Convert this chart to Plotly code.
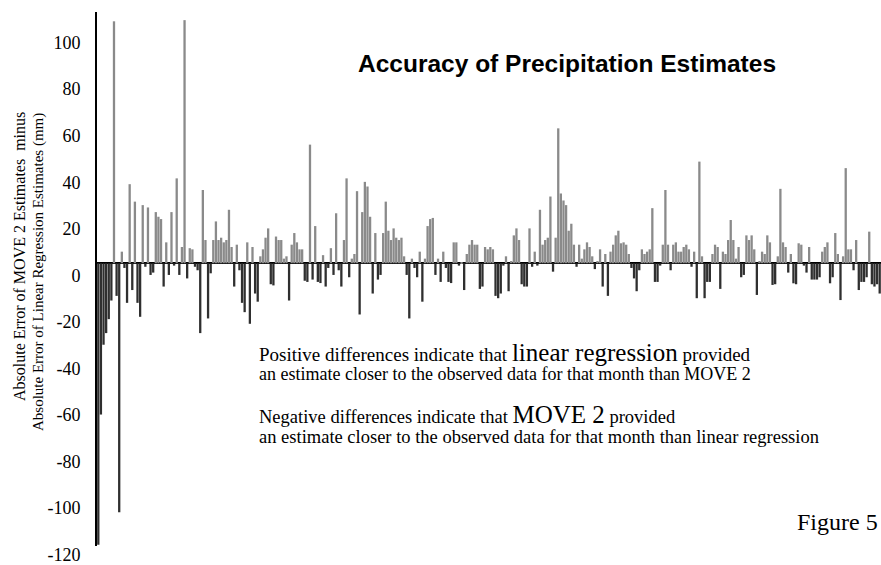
import plotly.graph_objects as go

# Monthly differences (mm): |MOVE 2 error| - |linear regression error|
seg1 = [-121, -65, -35, -30, -24, -16, 104, -14, -107, 5, -2, -17, 34, -11.5, 26.5, -17, -23, 25, -1.5, 24,
        -5, -4, 22, 20, 19, -10, 9, -5, 22, -1, 36.5, -5, 7, 104.5, -6.5, 6.5, 6, -1.5, -3, -30,
        31.5, 10, -23.7, -4.3, 10, 18, 10, 11, 9, 10]
seg2 = [23, 7, -10, 8, -3, -17, -21, 9, -26, 7, -13, -16.5, 3, 6, 11, 15, -9, -9.5, 11.5, 10,
        10, 2, 3, -16, 8, 13, 9, 6, 6, -7.5, -8, 51, -7, 16, -8, -8.5, 3.5, -10, -2, 6.5,
        -5, 21.5, -3, -10, 10, 36.5, -6, 2, 4, 31]
seg3 = [-22, 22, 35, 33, 20, -13, 13, -7, -5, 13, 26.5, 14, 10, 15, 11, 10, 11, 3, -5, -23.7,
        2, -2, -6, 5, -16.5, 2, 16, 19, 19.5, -5, 2, -8, 5, -2, -8, -8.5, 9, 9, -1, 0.5,
        -11.5, 4, 8, 10, 8, 8, -11, -10, 7, 6]
seg4 = [7, 6, -14, -15, -13, -1, 3, -12, 1, 12, 15, 10, -9, -10, -10, 15, -1.5, 5, -1, 23,
        8, 10, 11, 28.7, -3.6, 11, 58, 30, 27, 25, 14, 17, 8, -1.5, 8, 2, 6, 9, 7, 3,
        -2.5, 1, 6, -10, 4, -14, 5, 8, 12, 14]
seg5 = [8.6, 9, 8, 4, -2, -6.5, -12, -3, 6, 4, 5, 6, 23.7, -8, -8, -1, 8, 31.5, 8, -3,
        8, 9, 5, 5, 7, 8, 6, -1.5, 5, -15, 43.7, 3, -15, -8, -8, 4, 8, 7, -11, 5,
        4, 10, 18.6, 10, 2, 7, -6, -5, 12, 10]
seg6 = [12, 6, -13.6, 1, 5, 4, 12, 9, -9.3, -9, 3, 32, 9, 7, -4, 4, -8.6, -9, 8.6, 8,
        -1, -4, 7, -7, -7, -7, -6, 5, 7, 9, -8.6, -6, 13, 4, -15.8, 3, 40.9, 6, 6, -3,
        10, -11.5, -8, -8, -6, 13.6, -9, -10, -9, -13]

differences = seg1 + seg2 + seg3 + seg4 + seg5 + seg6
months = list(range(len(differences)))

tick_values = [100, 80, 60, 40, 20, 0, -20, -40, -60, -80, -100, -120]
tick_labels = ["100", "80", "60", "40", "20", "0", "-20", "-40", "-60", "-80", "-100", "-120"]

title_text = "Accuracy of Precipitation Estimates"
ytitle_1 = "Absolute Error of MOVE 2 Estimates  minus"
ytitle_2 = "Absolute Error of Linear Regression Estimates (mm)"

POS_COLOR = "#8a8a8a"
NEG_COLOR = "#2f2f2f"
colors = [POS_COLOR if v >= 0 else NEG_COLOR for v in differences]

W, H = 881, 565
L, R, T, B = 97, 0, 12, 19
PW, PH = W - L - R, H - T - B

def px(x):
    return (x - L) / PW

def py(y):
    return (H - B - y) / PH

fig = go.Figure(go.Bar(x=months, y=differences, marker=dict(color=colors, line=dict(width=0)),
                       hoverinfo="skip"))

serif = "Liberation Serif"
sans = "Liberation Sans"

fig.update_layout(
    width=W, height=H,
    margin=dict(l=L, r=R, t=T, b=B),
    paper_bgcolor="white", plot_bgcolor="white",
    font=dict(family=serif, color="black"),
    showlegend=False, bargap=0.12,
    xaxis=dict(range=[-0.5, len(differences) - 0.5], visible=False, showgrid=False, zeroline=False),
    yaxis=dict(range=[-121.5, 108], tickvals=tick_values, ticktext=tick_labels, ticks="",
               showgrid=False, showline=True, linecolor="black", linewidth=2,
               zeroline=True, zerolinecolor="black", zerolinewidth=2,
               tickfont=dict(family=serif, size=18, color="black"),
               ticklabelstandoff=11, ticklabelshift=12),
)

ann = []
ann.append(dict(text="<b>" + title_text + "</b>", x=px(567), y=py(63), xref="paper", yref="paper",
                showarrow=False, font=dict(family=sans, size=24.5, color="black"),
                xanchor="center", yanchor="middle"))
ann.append(dict(text=ytitle_1, x=px(19), y=py(257), xref="paper", yref="paper", textangle=-90,
                showarrow=False, font=dict(family=serif, size=16, color="black"),
                xanchor="center", yanchor="middle"))
ann.append(dict(text=ytitle_2, x=px(38), y=py(272), xref="paper", yref="paper", textangle=-90,
                showarrow=False, font=dict(family=serif, size=15, color="black"),
                xanchor="center", yanchor="middle"))
big = '<span style="font-size:25px">{}</span>'
notes = [
    ("Positive differences indicate that " + big.format("linear regression") + " provided", 352, 19),
    ("an estimate closer to the observed data for that month than MOVE 2", 374, 18),
    ("Negative differences indicate that " + big.format("MOVE 2") + " provided", 414, 18.5),
    ("an estimate closer to the observed data for that month than linear regression", 437, 18.5),
]
for txt, yy, fs in notes:
    ann.append(dict(text=txt, x=px(257), y=py(yy), xref="paper", yref="paper", showarrow=False,
                    font=dict(family=serif, size=fs, color="black"), xanchor="left", yanchor="middle"))
ann.append(dict(text="Figure 5", x=px(880), y=py(522), xref="paper", yref="paper", showarrow=False,
                font=dict(family=serif, size=24, color="black"), xanchor="right", yanchor="middle"))
fig.update_layout(annotations=ann)

fig.write_html("out.html")
